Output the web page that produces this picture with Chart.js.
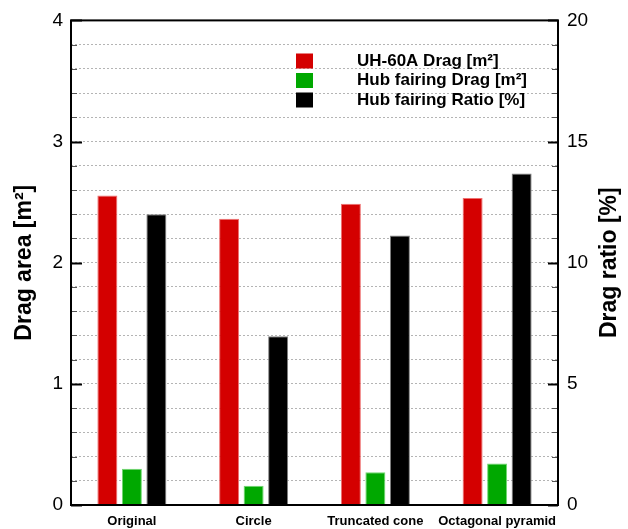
<!DOCTYPE html>
<html>
<head>
<meta charset="utf-8">
<script src="https://cdn.jsdelivr.net/npm/chart.js@4.4.0/dist/chart.umd.min.js"></script>
<style>
  html, body { margin: 0; padding: 0; background: #fff; }
  #wrap { width: 628px; height: 529px; }
</style>
</head>
<body>
<div id="wrap"><canvas id="dragChart" width="628" height="529"></canvas></div>
<script>
// --------------------
// Data
// --------------------
const categories = ["Original", "Circle", "Truncated cone", "Octagonal pyramid"];
const uh60aDrag = [2.555, 2.363, 2.486, 2.535];     // m^2
const hubDrag = [0.300, 0.159, 0.271, 0.342];       // m^2
const hubRatio = [12.0, 6.96, 11.12, 13.68];        // %

const leftTicks = { min: 0, max: 4, step: 0.2 };
const rightTicks = { min: 0, max: 20, step: 1, labelEvery: 5 };
const rightTitle = "Drag ratio [%]";

Chart.defaults.font.family = "'Liberation Sans', Arial, sans-serif";
Chart.defaults.color = "#000";

const isWhole = (v, every) => Math.abs(v / every - Math.round(v / every)) < 1e-6;

// --------------------
// Frame, inward ticks, right title and legend (drawn on top)
// --------------------
const framePlugin = {
  id: "frame",
  afterDatasetsDraw(chart) {
    const { ctx, chartArea: a, scales } = chart;
    ctx.save();
    // ticks on left axis
    scales.y.ticks.forEach(t => {
      const py = Math.round(scales.y.getPixelForValue(t.value)) + 0.5;
      const major = isWhole(t.value, 1);
      ctx.beginPath();
      ctx.lineWidth = major ? 2 : 1;
      ctx.strokeStyle = major ? "#000" : "#555";
      ctx.moveTo(a.left, py);
      ctx.lineTo(a.left + (major ? 11 : 6), py);
      ctx.stroke();
    });
    // ticks on right axis
    scales.y1.ticks.forEach(t => {
      const py = Math.round(scales.y1.getPixelForValue(t.value)) + 0.5;
      const major = isWhole(t.value, rightTicks.labelEvery);
      ctx.beginPath();
      ctx.lineWidth = major ? 2 : 1;
      ctx.strokeStyle = major ? "#000" : "#555";
      ctx.moveTo(a.right, py);
      ctx.lineTo(a.right - (major ? 10 : 6), py);
      ctx.stroke();
    });
    // box
    ctx.lineWidth = 2;
    ctx.strokeStyle = "#000";
    ctx.strokeRect(a.left, a.top, a.right - a.left, a.bottom - a.top);
    ctx.restore();
  },
  afterDraw(chart) {
    const { ctx, chartArea: a } = chart;
    ctx.save();
    // right axis title, reading bottom to top like the left one
    ctx.font = "bold 23px 'Liberation Sans', Arial, sans-serif";
    ctx.textAlign = "center";
    ctx.textBaseline = "middle";
    ctx.fillStyle = "#000";
    ctx.translate(610, (a.top + a.bottom) / 2);
    ctx.rotate(-Math.PI / 2);
    ctx.fillText(rightTitle, 0, 0);
    ctx.restore();

    ctx.save();
    ctx.font = "bold 17px 'Liberation Sans', Arial, sans-serif";
    ctx.textBaseline = "middle";
    ctx.textAlign = "left";
    chart.data.datasets.forEach((ds, i) => {
      const cy = 61 + i * 19.5;
      ctx.fillStyle = ds.backgroundColor;
      ctx.fillRect(296, cy - 7.5, 17, 15);
      ctx.fillStyle = "#000";
      ctx.fillText(ds.label, 357, cy);
    });
    ctx.restore();
  }
};

// --------------------
// Chart
// --------------------
new Chart(document.getElementById("dragChart"), {
  type: "bar",
  data: {
    labels: categories,
    datasets: [
      { label: "UH-60A Drag [m²]", data: uh60aDrag, yAxisID: "y",
        backgroundColor: "#d40000", borderColor: "#ee7070", borderWidth: 1 },
      { label: "Hub fairing Drag [m²]", data: hubDrag, yAxisID: "y",
        backgroundColor: "#00a800", borderColor: "#70d870", borderWidth: 1 },
      { label: "Hub fairing Ratio [%]", data: hubRatio, yAxisID: "y1",
        backgroundColor: "#000000", borderColor: "#808080", borderWidth: 1 }
    ]
  },
  options: {
    responsive: false,
    animation: false,
    layout: { padding: { top: 18, left: 0, right: 0, bottom: 0 } },
    datasets: { bar: { categoryPercentage: 0.604, barPercentage: 0.816 } },
    plugins: { legend: { display: false }, tooltip: { enabled: false } },
    scales: {
      x: {
        grid: { display: false, drawTicks: false },
        border: { display: false },
        ticks: { font: { size: 13, weight: "bold" }, padding: 9, maxRotation: 0, autoSkip: false },
        afterFit: s => { s.height = 24; }
      },
      y: {
        position: "left",
        min: leftTicks.min, max: leftTicks.max,
        grid: { color: "#b4b4b4", lineWidth: 1, drawTicks: false },
        border: { display: false, dash: [2, 2] },
        ticks: {
          stepSize: leftTicks.step, maxTicksLimit: 100, autoSkip: false,
          padding: 8, font: { size: 19 },
          callback: v => isWhole(v, 1) ? Math.round(v) : ""
        },
        title: { display: true, text: "Drag area [m²]", font: { size: 23, weight: "bold" }, padding: { top: 11, bottom: 0 } },
        afterFit: s => { s.width = 71; }
      },
      y1: {
        position: "right",
        min: rightTicks.min, max: rightTicks.max,
        grid: { drawOnChartArea: false, drawTicks: false },
        border: { display: false },
        ticks: {
          stepSize: rightTicks.step, maxTicksLimit: 100, autoSkip: false,
          padding: 9, font: { size: 19 },
          callback: v => isWhole(v, rightTicks.labelEvery) ? Math.round(v) : ""
        },
        afterFit: s => { s.width = 70; }
      }
    }
  },
  plugins: [framePlugin]
});
</script>
</body>
</html>
